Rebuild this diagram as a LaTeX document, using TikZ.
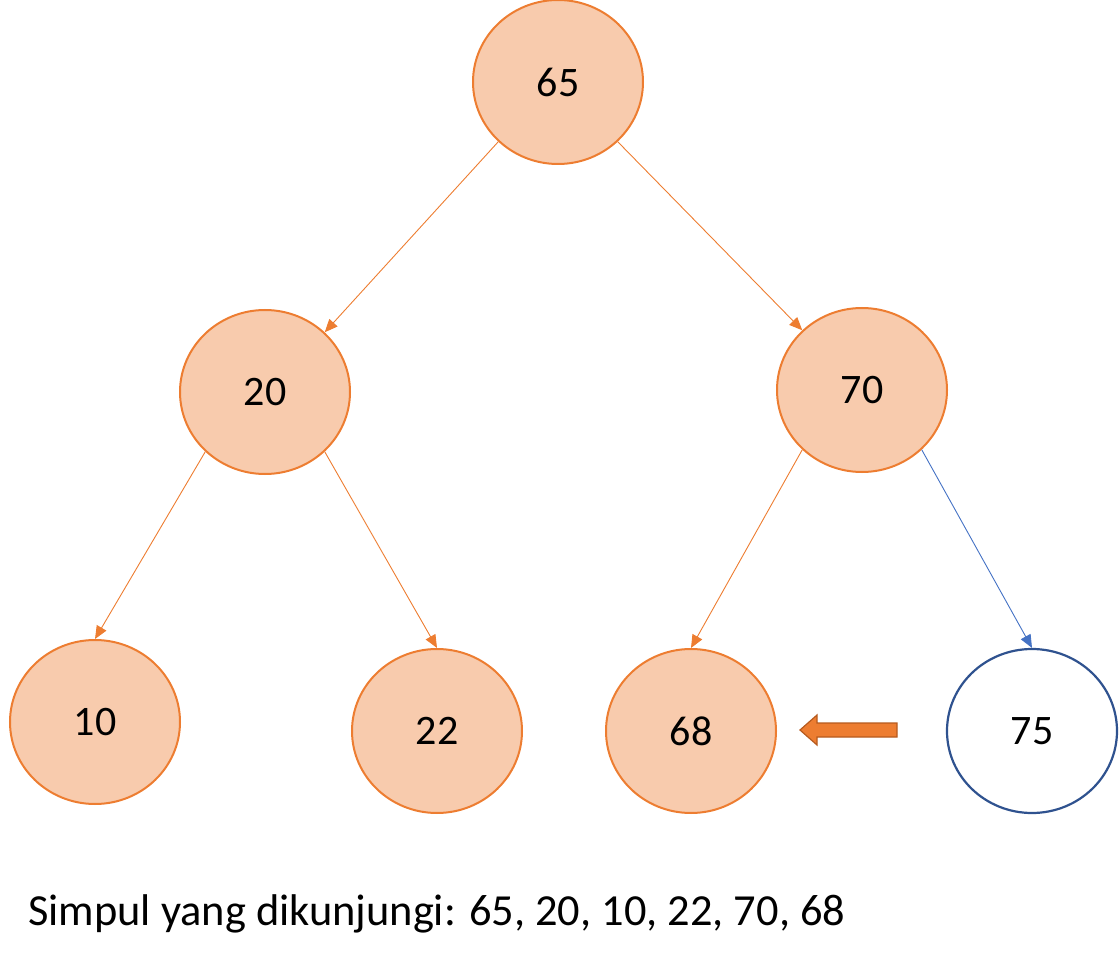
\documentclass[tikz,border=0pt]{standalone}
\usepackage{fontspec}
\setmainfont{Carlito}
\usetikzlibrary{shapes.geometric,arrows.meta}
\definecolor{peach}{HTML}{F8CBAD}
\definecolor{orng}{HTML}{ED7D31}
\definecolor{dorng}{HTML}{B65A1E}
\definecolor{blueedge}{HTML}{4472C4}
\definecolor{dblue}{HTML}{2F528F}
\begin{document}
\begin{tikzpicture}[x=1pt,y=-1pt,
  treenode/.style={ellipse,draw=orng,fill=peach,line width=2pt,minimum width=170pt,minimum height=164pt,inner sep=0pt,font=\fontsize{42}{50}\selectfont},
  newnode/.style={treenode,draw=dblue,fill=white,line width=2.2pt},
  edge/.style={draw=orng,line width=0.9pt,-{Triangle[length=13pt,width=11pt]}},
  bedge/.style={edge,draw=blueedge}]
\useasboundingbox (0,0) rectangle (1120,960);
\node[treenode] (n65) at (558,82) {65};
\node[treenode] (n20) at (265,392) {20};
\node[treenode] (n70) at (862,390) {70};
\node[treenode] (n10) at (95,722) {10};
\node[treenode] (n22) at (437,731) {22};
\node[treenode] (n68) at (691,731) {68};
\node[newnode] (n75) at (1032,731) {75};
\draw[edge] (n65.225) -- (n20.45);
\draw[edge] (n65.315) -- (n70.135);
\draw[edge] (n20.225) -- (n10.north);
\draw[edge] (n20.315) -- (n22.north);
\draw[edge] (n70.225) -- (n68.north);
\draw[bedge] (n70.315) -- (n75.north);
\draw[draw=dorng,fill=orng,line width=1.2pt] (897,723) -- (817,723) -- (817,715) -- (800,730) -- (817,745) -- (817,737) -- (897,737) -- cycle;
\node[anchor=base west,inner sep=0pt,font=\fontsize{44.4}{52}\selectfont] (cap) at (28,925) {Simpul yang dikunjungi: 65, 20, 10, 22, 70, 68};
\end{tikzpicture}
\end{document}
